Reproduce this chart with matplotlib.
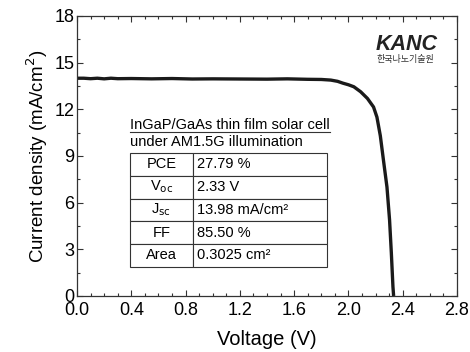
import matplotlib
matplotlib.use('Agg')
import matplotlib.pyplot as plt
from matplotlib.ticker import MultipleLocator
from matplotlib.lines import Line2D

plt.rcParams['font.family'] = ['Liberation Sans', 'DejaVu Sans']

# J-V curve
voltage = [0.00, 0.05, 0.10, 0.15, 0.20, 0.25, 0.30, 0.40, 0.55, 0.70, 0.85, 1.00,
           1.20, 1.40, 1.55, 1.70, 1.80, 1.87, 1.92, 1.96, 2.00, 2.04, 2.09, 2.14,
           2.185, 2.21, 2.235, 2.26, 2.284, 2.303, 2.316, 2.328, 2.333]
current = [14.00, 14.00, 13.97, 14.00, 13.96, 14.00, 13.97, 13.98, 13.96, 13.98, 13.95, 13.96,
           13.95, 13.94, 13.96, 13.93, 13.92, 13.88, 13.80, 13.68, 13.58, 13.45, 13.13, 12.70,
           12.15, 11.50, 10.30, 8.60, 7.00, 4.90, 2.80, 0.60, 0.00]

param_names = ['PCE', 'V$_{\\mathrm{oc}}$', 'J$_{\\mathrm{sc}}$', 'FF', 'Area']
param_values = ['27.79 %', '2.33 V', '13.98 mA/cm\u00b2', '85.50 %', '0.3025 cm\u00b2']

fig = plt.figure(figsize=(4.70, 3.52), dpi=100)
ax = fig.add_axes([77 / 470, 56 / 352, 380 / 470, 280 / 352])

ax.plot(voltage, current, color='#1a1a1a', lw=2.4, solid_capstyle='butt')

ax.set_xlim(0, 2.8)
ax.set_ylim(0, 18)
ax.xaxis.set_major_locator(MultipleLocator(0.4))
ax.xaxis.set_minor_locator(MultipleLocator(0.1))
ax.yaxis.set_major_locator(MultipleLocator(3))
ax.yaxis.set_minor_locator(MultipleLocator(1.5))
ax.xaxis.set_major_formatter(plt.FuncFormatter(lambda v, p: f'{v:.1f}'))
ax.tick_params(which='both', direction='in', top=True, right=True, labelsize=13,
               color='#333333')
ax.tick_params(axis='x', pad=4.5)
ax.tick_params(axis='y', pad=2)
ax.tick_params(which='major', length=4, width=0.8)
ax.tick_params(which='minor', length=2.5, width=0.8)
for s in ax.spines.values():
    s.set_linewidth(0.9)
    s.set_color('#333333')

ax.set_xlabel('Voltage (V)', fontsize=14.5, labelpad=8)
ax.set_ylabel('Current density (mA/cm$^2$)', fontsize=13.5, labelpad=3)

# parameter table
tbl = ax.table(cellText=[[n, v] for n, v in zip(param_names, param_values)],
               colWidths=[0.32, 0.68], cellLoc='center',
               bbox=[0.139, 0.104, 0.519, 0.407])
tbl.auto_set_font_size(False)
for (r, c), cell in tbl.get_celld().items():
    cell.set_linewidth(0.8)
    cell.set_edgecolor('#333333')
    cell.get_text().set_fontsize(10.5)
    if c == 1:
        cell.get_text().set_horizontalalignment('left')
        cell.PAD = 0.03

t1 = ax.text(0.139, 0.597, 'InGaP/GaAs thin film solar cell', transform=ax.transAxes,
             fontsize=10.5, ha='left', va='baseline')
ax.text(0.139, 0.537, 'under AM1.5G illumination', transform=ax.transAxes,
        fontsize=10.5, ha='left', va='baseline')

fig.canvas.draw()
bb = t1.get_window_extent().transformed(ax.transAxes.inverted())
ax.add_line(Line2D([bb.x0, bb.x1], [0.587, 0.587], transform=ax.transAxes,
                   color='#333333', lw=0.8))

# logo
ax.text(0.785, 0.90, 'KANC', transform=ax.transAxes, fontsize=15.5, fontweight='bold',
        fontstyle='italic', color='#222222', ha='left', va='center')
ax.text(0.787, 0.845, '한국나노기술원', transform=ax.transAxes, fontsize=6.5,
        family=['Noto Sans CJK KR', 'DejaVu Sans'], color='#333333', ha='left', va='center')

fig.savefig('out.png', dpi=100)
